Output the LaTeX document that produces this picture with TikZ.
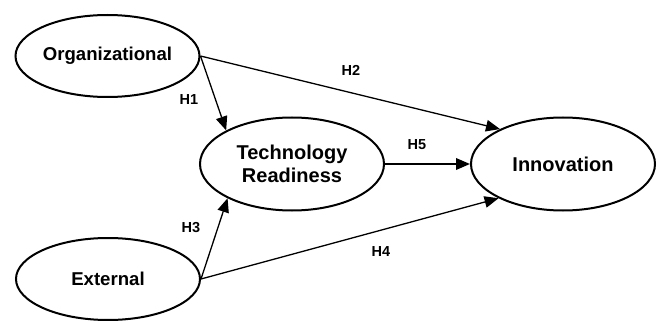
\documentclass[tikz,border=0pt]{standalone}
\usepackage{fontspec}
\setmainfont{Liberation Sans}
\usetikzlibrary{shapes.geometric,arrows.meta}
\begin{document}
\begin{tikzpicture}[x=1pt,y=-1pt,
  construct/.style={draw,ellipse,line width=2pt,inner sep=0pt,align=center,font=\fontsize{18.6}{21}\selectfont\bfseries},
  bigconstruct/.style={construct,font=\fontsize{20}{22.5}\selectfont\bfseries},
  path/.style={line width=1.3pt,-{Triangle[length=14pt,width=11.5pt]}},
  hyp/.style={font=\fontsize{14.5}{16}\selectfont\bfseries,inner sep=0pt}]
\useasboundingbox (0,0) rectangle (662,321);
\node[construct,minimum width=184pt,minimum height=82pt] (org) at (107.5,56) {Organizational};
\node[construct,minimum width=184pt,minimum height=82pt] (ext) at (108,279) {External};
\node[bigconstruct,minimum width=184pt,minimum height=93pt] (tech) at (292,164) {Technology\\Readiness};
\node[bigconstruct,minimum width=184pt,minimum height=93pt] (inn) at (563,164) {Innovation};
\draw[path] (org.east) -- (tech.153);
\draw[path] (org.east) -- (inn.151.6);
\draw[path] (ext.east) -- (tech.208.3);
\draw[path] (ext.east) -- (inn.208.4);
\draw[path,line width=2pt] (tech.east) -- (inn.west);
\node[hyp] (h1) at (189,100) {H1};
\node[hyp] (h2) at (351,70) {H2};
\node[hyp] (h3) at (191,228) {H3};
\node[hyp] (h4) at (381,252) {H4};
\node[hyp] (h5) at (417,145) {H5};
\end{tikzpicture}
\end{document}
